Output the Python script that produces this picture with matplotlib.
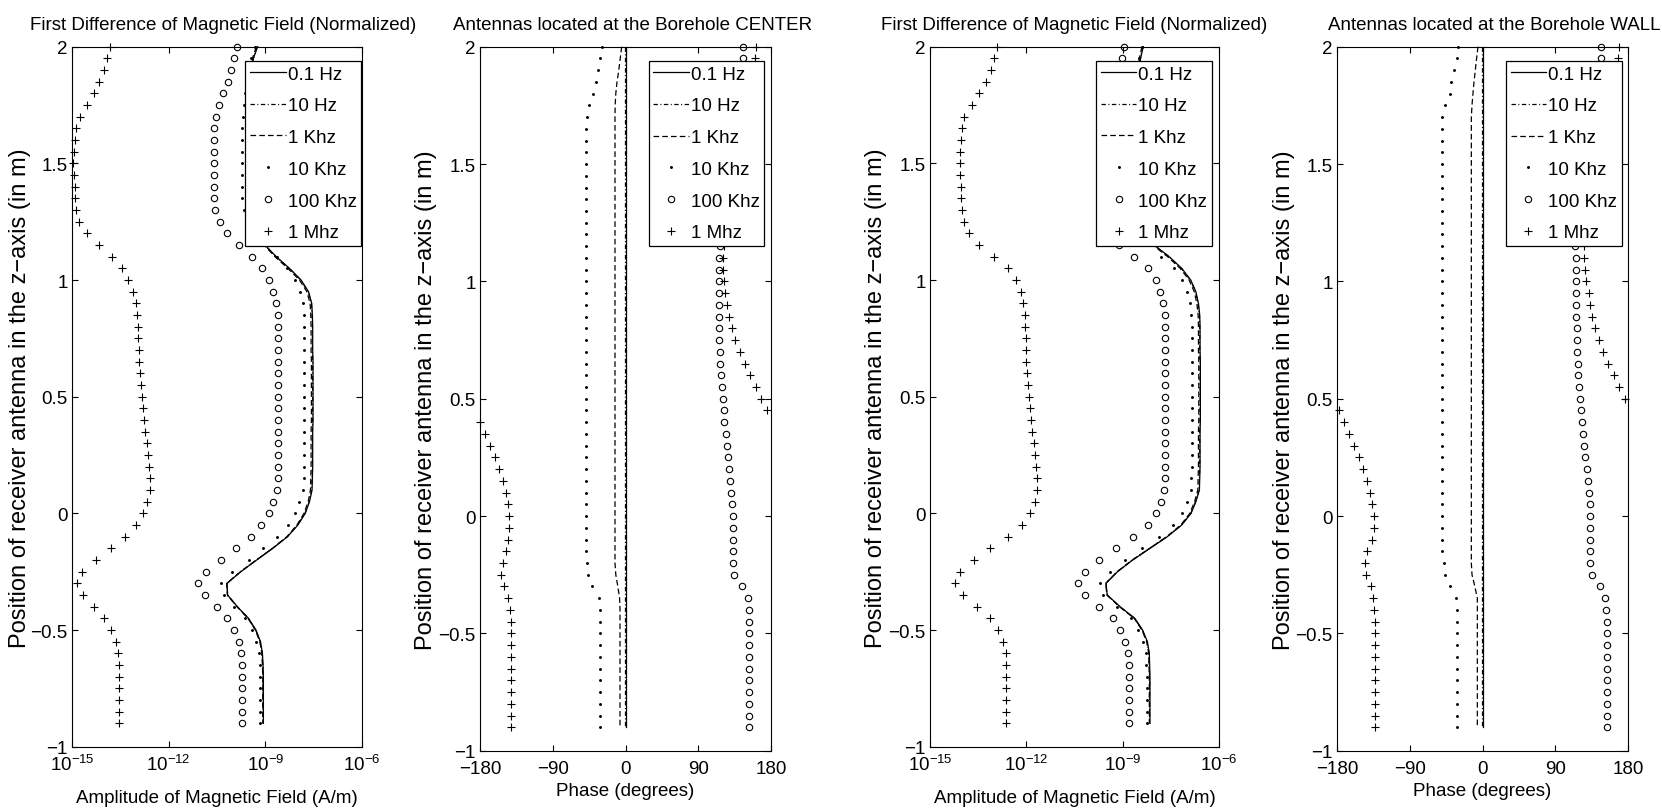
import numpy as np
import matplotlib
matplotlib.use('Agg')
import matplotlib.pyplot as plt
from matplotlib import font_manager
from matplotlib.ticker import NullLocator

# Posicion del receptor en el eje z (m)
z = [2.00, 1.95, 1.90, 1.85, 1.80, 1.75, 1.70, 1.65, 1.60, 1.55,
     1.50, 1.45, 1.40, 1.35, 1.30, 1.25, 1.20, 1.15, 1.10, 1.05,
     1.00, 0.95, 0.90, 0.85, 0.80, 0.75, 0.70, 0.65, 0.60, 0.55,
     0.50, 0.45, 0.40, 0.35, 0.30, 0.25, 0.20, 0.15, 0.10, 0.05,
     0.00, -0.05, -0.10, -0.15, -0.20, -0.25, -0.30, -0.35, -0.40, -0.45,
     -0.50, -0.55, -0.60, -0.65, -0.70, -0.75, -0.80, -0.85, -0.90]

frecuencias = ['0.1 Hz', '10 Hz', '1 Khz', '10 Khz', '100 Khz', '1 Mhz']

# Amplitud, antenas en el CENTRO (log10 de A/m)
amp_c_01 = [-9.24, -9.37, -9.45, -9.50, -9.53, -9.55, -9.57, -9.58, -9.58, -9.58,
            -9.58, -9.58, -9.58, -9.58, -9.53, -9.45, -9.27, -9.01, -8.66, -8.25,
            -7.89, -7.66, -7.56, -7.54, -7.53, -7.53, -7.53, -7.52, -7.52, -7.52,
            -7.52, -7.52, -7.52, -7.53, -7.53, -7.53, -7.53, -7.54, -7.55, -7.63,
            -7.76, -7.99, -8.31, -8.77, -9.27, -9.76, -10.19, -10.17, -9.87, -9.52,
            -9.29, -9.15, -9.09, -9.07, -9.06, -9.06, -9.06, -9.06, -9.06]
amp_c_10 = [-9.25, -9.37, -9.45, -9.50, -9.53, -9.55, -9.57, -9.58, -9.58, -9.59,
            -9.59, -9.59, -9.58, -9.58, -9.53, -9.45, -9.28, -9.02, -8.67, -8.26,
            -7.90, -7.67, -7.57, -7.55, -7.54, -7.54, -7.54, -7.53, -7.53, -7.53,
            -7.53, -7.53, -7.53, -7.54, -7.54, -7.54, -7.54, -7.55, -7.56, -7.64,
            -7.77, -8.00, -8.32, -8.78, -9.28, -9.77, -10.19, -10.17, -9.87, -9.53,
            -9.30, -9.16, -9.10, -9.08, -9.07, -9.07, -9.07, -9.07, -9.07]
amp_c_1k = [-9.28, -9.40, -9.48, -9.53, -9.56, -9.58, -9.60, -9.61, -9.61, -9.61,
            -9.61, -9.61, -9.61, -9.60, -9.56, -9.48, -9.30, -9.04, -8.70, -8.30,
            -7.94, -7.71, -7.61, -7.59, -7.58, -7.58, -7.58, -7.57, -7.57, -7.57,
            -7.57, -7.57, -7.57, -7.58, -7.58, -7.58, -7.58, -7.59, -7.60, -7.67,
            -7.80, -8.02, -8.33, -8.78, -9.28, -9.77, -10.20, -10.18, -9.88, -9.54,
            -9.31, -9.17, -9.11, -9.09, -9.08, -9.08, -9.08, -9.08, -9.08]
amp_c_10k = [-9.32, -9.45, -9.55, -9.61, -9.64, -9.67, -9.69, -9.71, -9.71, -9.71,
             -9.71, -9.71, -9.71, -9.71, -9.66, -9.52, -9.27, -8.95, -8.64, -8.33,
             -8.07, -7.92, -7.84, -7.81, -7.80, -7.80, -7.80, -7.79, -7.79, -7.79,
             -7.79, -7.79, -7.79, -7.80, -7.80, -7.80, -7.80, -7.81, -7.82, -7.95,
             -8.07, -8.31, -8.64, -9.06, -9.52, -10.04, -10.38, -10.28, -9.96, -9.63,
             -9.42, -9.29, -9.21, -9.18, -9.16, -9.16, -9.16, -9.16, -9.16]
amp_c_100k = [-9.89, -9.96, -10.06, -10.17, -10.30, -10.43, -10.53, -10.58, -10.60, -10.60,
              -10.60, -10.60, -10.60, -10.60, -10.56, -10.42, -10.20, -9.83, -9.42, -9.11,
              -8.90, -8.77, -8.66, -8.62, -8.61, -8.61, -8.61, -8.61, -8.61, -8.61,
              -8.61, -8.61, -8.61, -8.61, -8.61, -8.61, -8.61, -8.62, -8.64, -8.75,
              -8.90, -9.12, -9.45, -9.90, -10.38, -10.84, -11.08, -10.87, -10.51, -10.20,
              -9.98, -9.82, -9.75, -9.72, -9.71, -9.71, -9.71, -9.71, -9.71]
amp_c_1M = [-13.82, -13.90, -14.01, -14.15, -14.33, -14.54, -14.75, -14.87, -14.92, -14.95,
            -14.96, -14.95, -14.92, -14.90, -14.87, -14.77, -14.52, -14.17, -13.77, -13.45,
            -13.25, -13.10, -13.01, -12.99, -12.96, -12.95, -12.93, -12.91, -12.89, -12.86,
            -12.84, -12.81, -12.76, -12.72, -12.68, -12.64, -12.61, -12.58, -12.59, -12.68,
            -12.80, -13.02, -13.35, -13.79, -14.27, -14.69, -14.86, -14.65, -14.31, -14.00,
            -13.79, -13.64, -13.56, -13.53, -13.53, -13.53, -13.53, -13.53, -13.53]

# Amplitud, antenas en la PARED (log10 de A/m)
amp_w_01 = [-8.36, -8.44, -8.51, -8.56, -8.59, -8.62, -8.63, -8.63, -8.63, -8.63,
            -8.63, -8.63, -8.63, -8.63, -8.58, -8.48, -8.30, -8.02, -7.55, -7.16,
            -6.88, -6.72, -6.64, -6.60, -6.59, -6.59, -6.59, -6.58, -6.58, -6.58,
            -6.58, -6.58, -6.58, -6.59, -6.59, -6.59, -6.59, -6.60, -6.61, -6.72,
            -6.87, -7.16, -7.61, -8.15, -8.69, -9.16, -9.52, -9.48, -9.08, -8.62,
            -8.38, -8.23, -8.17, -8.16, -8.15, -8.15, -8.15, -8.15, -8.15]
amp_w_10 = [-8.37, -8.45, -8.52, -8.57, -8.60, -8.62, -8.63, -8.64, -8.64, -8.64,
            -8.64, -8.64, -8.64, -8.63, -8.59, -8.49, -8.31, -8.03, -7.56, -7.17,
            -6.89, -6.73, -6.65, -6.61, -6.60, -6.60, -6.60, -6.59, -6.59, -6.59,
            -6.59, -6.59, -6.59, -6.60, -6.60, -6.60, -6.60, -6.61, -6.62, -6.73,
            -6.88, -7.17, -7.62, -8.16, -8.70, -9.17, -9.52, -9.48, -9.09, -8.63,
            -8.39, -8.24, -8.18, -8.17, -8.16, -8.16, -8.16, -8.16, -8.16]
amp_w_1k = [-8.40, -8.48, -8.55, -8.60, -8.63, -8.65, -8.66, -8.67, -8.67, -8.67,
            -8.67, -8.67, -8.67, -8.66, -8.62, -8.52, -8.34, -8.06, -7.60, -7.21,
            -6.93, -6.77, -6.69, -6.65, -6.64, -6.64, -6.64, -6.63, -6.63, -6.63,
            -6.63, -6.63, -6.63, -6.64, -6.64, -6.64, -6.64, -6.65, -6.66, -6.76,
            -6.91, -7.19, -7.63, -8.16, -8.70, -9.17, -9.53, -9.49, -9.10, -8.64,
            -8.40, -8.25, -8.19, -8.18, -8.17, -8.17, -8.17, -8.17, -8.17]
amp_w_10k = [-8.41, -8.48, -8.58, -8.67, -8.73, -8.77, -8.79, -8.79, -8.79, -8.79,
             -8.79, -8.79, -8.79, -8.79, -8.75, -8.67, -8.51, -8.20, -7.82, -7.40,
             -7.16, -7.01, -6.90, -6.86, -6.85, -6.85, -6.85, -6.84, -6.84, -6.84,
             -6.84, -6.84, -6.84, -6.85, -6.85, -6.85, -6.85, -6.86, -6.88, -7.01,
             -7.16, -7.42, -7.86, -8.41, -8.93, -9.39, -9.71, -9.60, -9.19, -8.75,
             -8.51, -8.36, -8.28, -8.26, -8.25, -8.25, -8.25, -8.25, -8.25]
amp_w_100k = [-8.96, -9.03, -9.13, -9.29, -9.45, -9.58, -9.64, -9.67, -9.67, -9.67,
              -9.67, -9.67, -9.67, -9.67, -9.64, -9.55, -9.37, -9.10, -8.65, -8.22,
              -7.97, -7.84, -7.73, -7.69, -7.68, -7.68, -7.68, -7.68, -7.68, -7.68,
              -7.68, -7.68, -7.68, -7.68, -7.68, -7.68, -7.68, -7.69, -7.71, -7.81,
              -7.96, -8.22, -8.67, -9.22, -9.73, -10.17, -10.38, -10.17, -9.73, -9.31,
              -9.07, -8.93, -8.84, -8.81, -8.80, -8.80, -8.80, -8.80, -8.80]
amp_w_1M = [-12.92, -13.01, -13.11, -13.27, -13.46, -13.70, -13.94, -14.01, -14.04, -14.06,
            -14.06, -14.06, -14.04, -14.02, -14.00, -13.94, -13.78, -13.46, -13.01, -12.58,
            -12.32, -12.17, -12.09, -12.05, -12.03, -12.02, -12.01, -12.00, -11.98, -11.96,
            -11.93, -11.90, -11.85, -11.82, -11.77, -11.73, -11.69, -11.66, -11.67, -11.73,
            -11.89, -12.13, -12.57, -13.13, -13.64, -14.07, -14.21, -13.98, -13.55, -13.13,
            -12.87, -12.74, -12.64, -12.62, -12.62, -12.62, -12.62, -12.62, -12.62]

# Fase, antenas en el CENTRO (grados)
fase_c_01 = [0.0, 0.0, 0.0, 0.0, 0.0, 0.0, 0.0, 0.0, 0.0, 0.0,
             0.0, 0.0, 0.0, 0.0, 0.0, 0.0, 0.0, 0.0, 0.0, 0.0,
             0.0, 0.0, 0.0, 0.0, 0.0, 0.0, 0.0, 0.0, 0.0, 0.0,
             0.0, 0.0, 0.0, 0.0, 0.0, 0.0, 0.0, 0.0, 0.0, 0.0,
             0.0, 0.0, 0.0, 0.0, 0.0, 0.0, 0.0, 0.0, 0.0, 0.0,
             0.0, 0.0, 0.0, 0.0, 0.0, 0.0, 0.0, 0.0, 0.0]
fase_c_10 = [-0.3, -0.3, -0.3, -0.3, -0.3, -0.3, -0.3, -0.3, -0.3, -0.3,
             -0.3, -0.3, -0.3, -0.3, -0.3, -0.3, -0.3, -0.3, -0.3, -0.3,
             -0.3, -0.3, -0.3, -0.3, -0.3, -0.3, -0.3, -0.3, -0.3, -0.3,
             -0.3, -0.3, -0.3, -0.3, -0.3, -0.3, -0.3, -0.3, -0.3, -0.3,
             -0.3, -0.3, -0.3, -0.3, -0.3, -0.3, -0.3, -0.3, -0.3, -0.3,
             -0.3, -0.3, -0.3, -0.3, -0.3, -0.3, -0.3, -0.3, -0.3]
fase_c_1k = [-4.7, -6.5, -8.3, -10.5, -12.0, -12.8, -13.0, -13.0, -13.0, -13.0,
             -13.0, -13.0, -13.0, -13.0, -13.0, -13.0, -13.0, -13.0, -13.0, -13.0,
             -13.0, -13.0, -13.0, -13.0, -13.0, -13.0, -13.0, -13.0, -13.0, -13.0,
             -13.0, -13.0, -13.0, -13.0, -13.0, -13.0, -13.0, -13.0, -13.0, -13.0,
             -13.0, -13.0, -13.0, -13.0, -13.0, -12.0, -9.5, -7.3, -6.8, -6.8,
             -6.8, -6.8, -6.8, -6.8, -6.8, -6.8, -6.8, -6.8, -6.8]
fase_c_10k = [-29.5, -31.5, -33.6, -36.5, -40.6, -44.7, -48.0, -49.3, -49.3, -49.3,
              -49.3, -49.3, -49.3, -49.3, -49.3, -49.3, -49.3, -49.3, -49.3, -49.3,
              -49.3, -49.3, -49.3, -49.3, -49.3, -49.3, -49.3, -49.3, -49.3, -49.3,
              -49.3, -49.3, -49.3, -49.3, -49.3, -49.3, -49.3, -49.3, -49.3, -49.3,
              -49.3, -49.3, -49.3, -49.3, -47.2, -46.0, -41.0, -32.8, -31.1, -31.1,
              -31.1, -31.1, -31.1, -31.1, -31.1, -31.1, -31.1, -31.1, -31.1]
fase_c_100k = [145.8, 145.0, 143.0, 141.0, 138.0, 136.0, 134.0, 133.0, 132.5, 132.5,
               132.5, 132.5, 132.5, 131.5, 129.0, 125.0, 120.0, 116.5, 115.5, 115.5,
               115.5, 115.7, 115.7, 115.7, 116.1, 116.1, 116.9, 117.3, 118.1, 119.4,
               120.6, 121.4, 122.3, 123.9, 125.6, 126.8, 128.0, 129.7, 130.9, 132.2,
               132.6, 133.0, 133.0, 133.0, 132.6, 134.2, 143.7, 151.1, 152.8, 153.2,
               153.2, 153.2, 153.2, 153.2, 153.2, 153.2, 153.2, 153.2, 153.2]
fase_c_1M = [161.4, 160.6, 158.0, 154.0, 149.0, 144.0, 139.0, 136.0, 134.5, 134.0,
             134.0, 134.0, 134.0, 132.5, 130.0, 127.0, 124.0, 121.5, 120.5, 121.0,
             122.0, 123.5, 126.0, 128.5, 131.3, 135.9, 141.6, 147.8, 154.0, 161.0,
             167.6, 174.6, -180.0, -173.4, -167.6, -161.9, -156.5, -151.5, -147.8, -145.8,
             -144.5, -144.1, -145.8, -148.2, -152.0, -154.0, -149.9, -144.9, -142.9, -141.6,
             -141.6, -141.6, -141.6, -141.6, -141.6, -141.6, -141.6, -141.6, -141.6]

# Fase, antenas en la PARED (grados)
fase_w_01 = [0.0, 0.0, 0.0, 0.0, 0.0, 0.0, 0.0, 0.0, 0.0, 0.0,
             0.0, 0.0, 0.0, 0.0, 0.0, 0.0, 0.0, 0.0, 0.0, 0.0,
             0.0, 0.0, 0.0, 0.0, 0.0, 0.0, 0.0, 0.0, 0.0, 0.0,
             0.0, 0.0, 0.0, 0.0, 0.0, 0.0, 0.0, 0.0, 0.0, 0.0,
             0.0, 0.0, 0.0, 0.0, 0.0, 0.0, 0.0, 0.0, 0.0, 0.0,
             0.0, 0.0, 0.0, 0.0, 0.0, 0.0, 0.0, 0.0, 0.0]
fase_w_10 = [-0.3, -0.3, -0.3, -0.3, -0.3, -0.3, -0.3, -0.3, -0.3, -0.3,
             -0.3, -0.3, -0.3, -0.3, -0.3, -0.3, -0.3, -0.3, -0.3, -0.3,
             -0.3, -0.3, -0.3, -0.3, -0.3, -0.3, -0.3, -0.3, -0.3, -0.3,
             -0.3, -0.3, -0.3, -0.3, -0.3, -0.3, -0.3, -0.3, -0.3, -0.3,
             -0.3, -0.3, -0.3, -0.3, -0.3, -0.3, -0.3, -0.3, -0.3, -0.3,
             -0.3, -0.3, -0.3, -0.3, -0.3, -0.3, -0.3, -0.3, -0.3]
fase_w_1k = [-5.6, -7.3, -8.9, -10.5, -11.8, -13.0, -13.8, -13.8, -13.8, -13.8,
             -13.8, -13.8, -13.8, -13.8, -13.8, -13.8, -13.8, -13.8, -13.8, -13.8,
             -13.8, -13.8, -13.8, -13.8, -13.8, -13.8, -13.8, -13.8, -13.8, -13.8,
             -13.8, -13.8, -13.8, -13.8, -13.8, -13.8, -13.8, -13.8, -13.8, -13.8,
             -13.8, -13.8, -13.8, -13.8, -13.8, -13.0, -9.5, -6.4, -6.4, -6.4,
             -6.4, -6.4, -6.4, -6.4, -6.4, -6.4, -6.4, -6.4, -6.4]
fase_w_10k = [-30.3, -31.5, -35.7, -38.6, -40.6, -46.0, -49.7, -50.5, -50.5, -50.5,
              -50.5, -50.5, -50.5, -50.5, -50.5, -50.5, -50.5, -50.5, -50.5, -50.5,
              -50.5, -50.5, -50.5, -50.5, -50.5, -50.5, -50.5, -50.5, -50.5, -50.5,
              -50.5, -50.5, -50.5, -50.5, -50.5, -50.5, -50.5, -50.5, -50.5, -50.5,
              -50.5, -50.5, -50.5, -50.5, -48.0, -46.4, -40.6, -33.2, -31.1, -31.1,
              -31.1, -31.1, -31.1, -31.1, -31.1, -31.1, -31.1, -31.1, -31.1]
fase_w_100k = [146.2, 146.0, 145.0, 143.0, 141.0, 139.0, 137.0, 136.0, 135.5, 135.5,
               135.5, 135.5, 135.5, 134.0, 131.0, 126.0, 120.0, 114.0, 115.3, 115.3,
               115.3, 115.5, 115.7, 116.1, 116.5, 116.9, 117.3, 118.1, 118.6, 119.4,
               120.6, 121.9, 123.1, 124.3, 125.6, 127.2, 128.9, 130.5, 131.8, 132.6,
               133.0, 133.4, 133.4, 133.4, 132.6, 135.9, 144.9, 152.0, 153.2, 153.6,
               153.6, 153.6, 153.6, 153.6, 153.6, 153.6, 153.6, 153.6, 153.6]
fase_w_1M = [168.5, 167.6, 165.0, 161.0, 156.0, 150.0, 145.0, 141.0, 139.0, 138.0,
             138.0, 138.0, 138.0, 136.5, 134.0, 131.0, 128.0, 125.6, 125.6, 127.2,
             128.5, 131.3, 133.4, 135.9, 139.6, 144.1, 149.1, 155.3, 162.3, 168.9,
             175.9, -177.9, -171.3, -165.2, -159.0, -153.2, -147.8, -142.9, -138.8, -136.3,
             -134.6, -134.2, -136.7, -142.9, -145.8, -144.5, -137.5, -135.1, -133.8, -132.6,
             -132.6, -132.6, -132.6, -132.6, -132.6, -132.6, -132.6, -132.6, -132.6]

# Ejes y etiquetas
z_ticks = [-1, -0.5, 0, 0.5, 1, 1.5, 2]
z_ticklabels = ['\u22121', '\u22120.5', '0', '0.5', '1', '1.5', '2']
amp_ticks = [1e-15, 1e-12, 1e-9, 1e-6]
amp_ticklabels = [r'$\mathregular{10^{-15}}$', r'$\mathregular{10^{-12}}$',
                  r'$\mathregular{10^{-9}}$', r'$\mathregular{10^{-6}}$']
fase_ticks = [-180, -90, 0, 90, 180]
fase_ticklabels = ['\u2212180', '\u221290', '0', '90', '180']

titulo_amp = 'First Difference of Magnetic Field (Normalized)'
titulo_centro = 'Antennas located at the Borehole CENTER'
titulo_pared = 'Antennas located at the Borehole WALL'
ylabel = 'Position of receiver antenna in the z\u2212axis (in m)'
xlabel_amp = 'Amplitude of Magnetic Field (A/m)'
xlabel_fase = 'Phase (degrees)'

# Fuentes: la original es muy estrecha
nombres = {f.name for f in font_manager.fontManager.ttflist}
if 'Liberation Sans Narrow' in nombres:
    fuente = 'Liberation Sans Narrow'
    tam = 16.5
else:
    fuente = 'Liberation Sans'
    tam = 13.5
plt.rcParams['font.family'] = [fuente, 'DejaVu Sans']
plt.rcParams['mathtext.fontset'] = 'custom'
plt.rcParams['mathtext.rm'] = fuente
plt.rcParams['mathtext.it'] = fuente
plt.rcParams['mathtext.bf'] = fuente
plt.rcParams['axes.linewidth'] = 0.8

estilos = [
    dict(color='k', ls='-', lw=0.9),
    dict(color='k', ls=(0, (3.5, 2.0, 0.8, 2.0)), lw=0.9),
    dict(color='k', ls=(0, (4.5, 2.5)), lw=0.9),
    dict(color='k', ls='none', marker='.', ms=2.2),
    dict(color='k', ls='none', marker='o', ms=4.6, mfc='none', mew=0.8),
    dict(color='k', ls='none', marker='+', ms=5.5, mew=0.8),
]

W, H = 1662, 812
fig = plt.figure(figsize=(W / 100, H / 100), dpi=100)


def caja(x0, x1, y0, y1):
    return [x0 / W, 1 - y1 / H, (x1 - x0) / W, (y1 - y0) / H]


def comun(ax, titulo, x_titulo, leg_x, ylab_x, xlab_y):
    ax.set_ylim(-1, 2)
    ax.set_yticks(z_ticks, labels=z_ticklabels)
    ax.tick_params(direction='in', top=True, right=True, length=4,
                   width=0.8, labelsize=tam)
    ax.tick_params(axis='y', pad=3)
    ax.set_title(titulo, fontsize=tam, pad=13)
    ax.title.set_x(x_titulo)
    ax.set_ylabel(ylabel, family=['Liberation Sans', 'DejaVu Sans'], fontsize=17)
    ax.yaxis.set_label_coords(ylab_x, 0.5)
    ax.xaxis.set_label_coords(0.5, xlab_y)
    leg = ax.legend(loc='upper right', bbox_to_anchor=(leg_x, 0.98),
                    frameon=True, fancybox=False, edgecolor='k', framealpha=1,
                    borderpad=0.25, labelspacing=0.78, handlelength=1.9,
                    handletextpad=0.1, borderaxespad=0, numpoints=1, fontsize=tam)
    leg.get_frame().set_linewidth(0.9)


def panel_amplitud(ax, series, titulo, x_titulo, leg_x, ylab_x):
    for vals, est, lab in zip(series, estilos, frecuencias):
        ax.plot(10.0 ** np.array(vals), z, label=lab, clip_on=False, **est)
    ax.set_xscale('log')
    ax.set_xlim(1e-15, 1e-6)
    ax.set_xticks(amp_ticks, labels=amp_ticklabels)
    ax.xaxis.set_minor_locator(NullLocator())
    ax.tick_params(axis='x', pad=5.5)
    ax.set_xlabel(xlabel_amp, fontsize=tam)
    comun(ax, titulo, x_titulo, leg_x, ylab_x, -0.060)


def panel_fase(ax, series, titulo, x_titulo, leg_x, ylab_x):
    for vals, est, lab in zip(series, estilos, frecuencias):
        ax.plot(vals, z, label=lab, clip_on=False, **est)
    ax.set_xlim(-180, 180)
    ax.set_xticks(fase_ticks, labels=fase_ticklabels)
    ax.tick_params(axis='x', pad=7)
    ax.set_xlabel(xlabel_fase, fontsize=tam)
    comun(ax, titulo, x_titulo, leg_x, ylab_x, -0.0445)


ax1 = fig.add_axes(caja(72, 362, 47.7, 747.7))
ax2 = fig.add_axes(caja(480, 771, 47.7, 751.7))
ax3 = fig.add_axes(caja(930, 1219, 47.7, 747.7))
ax4 = fig.add_axes(caja(1337, 1628, 47.7, 751.7))

panel_amplitud(ax1, [amp_c_01, amp_c_10, amp_c_1k, amp_c_10k, amp_c_100k, amp_c_1M],
               titulo_amp, 0.521, 0.997, -0.14)
panel_fase(ax2, [fase_c_01, fase_c_10, fase_c_1k, fase_c_10k, fase_c_100k, fase_c_1M],
           titulo_centro, 0.524, 0.977, -0.148)
panel_amplitud(ax3, [amp_w_01, amp_w_10, amp_w_1k, amp_w_10k, amp_w_100k, amp_w_1M],
               titulo_amp, 0.497, 0.975, -0.15)
panel_fase(ax4, [fase_w_01, fase_w_10, fase_w_1k, fase_w_10k, fase_w_100k, fase_w_1M],
           titulo_pared, 0.54, 0.978, -0.145)

fig.savefig('out.png', dpi=100)
